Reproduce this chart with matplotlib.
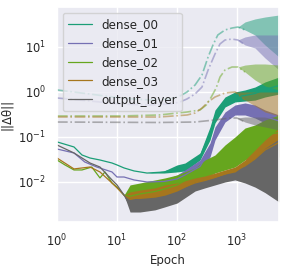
import matplotlib
matplotlib.use("Agg")
import matplotlib.pyplot as plt
import seaborn as sns
import numpy as np

sns.set_theme(style="darkgrid")
plt.rcParams['font.family'] = ['DejaVu Sans']

layers = ["dense_00", "dense_01", "dense_02", "dense_03", "output_layer"]
colors = ["#1b9e77", "#7570b3", "#66a61e", "#a6761d", "#666666"]

# ---- solid curves (noisy envelopes: low / high) ----
ep_s0 = [1, 1.92, 2.61, 3.55, 5.2, 8.25, 10, 13.1, 19.2, 31.6, 60.7, 100, 136, 242, 355, 430, 631, 926, 1359, 1995, 2929, 5012]
lo_s0 = [0.0778, 0.060, 0.0398, 0.0341, 0.0308, 0.0264, 0.0239, 0.0205, 0.0176, 0.0158, 0.0158, 0.0167, 0.0176, 0.0308, 0.0858, 0.205, 0.464, 0.60, 0.63, 0.66, 0.774, 0.90]
hi_s0 = [0.0778, 0.060, 0.0398, 0.0341, 0.0308, 0.0264, 0.0239, 0.0205, 0.0176, 0.0158, 0.0176, 0.0239, 0.0264, 0.044, 0.167, 0.398, 0.774, 1.0, 1.11, 1.29, 1.67, 2.15]

ep_s1 = [1, 1.92, 2.9, 4.6, 8.25, 10, 13.1, 19.2, 31.6, 60.7, 100, 136, 242, 355, 430, 631, 926, 1359, 1995, 2929, 5012]
lo_s1 = [0.0541, 0.0441, 0.0278, 0.0215, 0.0167, 0.0129, 0.0129, 0.0111, 0.0100, 0.0095, 0.0095, 0.0111, 0.0158, 0.0359, 0.0858, 0.215, 0.308, 0.308, 0.264, 0.205, 0.167]
hi_s1 = [0.0541, 0.0441, 0.0278, 0.0215, 0.0167, 0.0129, 0.0129, 0.0111, 0.0100, 0.0111, 0.0143, 0.0185, 0.0308, 0.0736, 0.167, 0.359, 0.514, 0.570, 0.514, 0.398, 0.308]

ep_s2 = [1, 1.36, 1.92, 2.61, 3.8, 5.2, 6.3, 8.25, 10, 13.1, 16.5, 24.2, 43, 63, 100, 200, 293, 430, 631, 926, 1359, 1995, 2929, 5012]
lo_s2 = [0.0308, 0.0239, 0.0185, 0.0185, 0.0215, 0.0123, 0.0167, 0.0095, 0.0077, 0.0051, 0.0027, 0.0031, 0.0034, 0.0040, 0.0051, 0.0100, 0.0123, 0.0158, 0.0185, 0.0215, 0.0308, 0.0398, 0.0514, 0.0514]
hi_s2 = [0.0308, 0.0239, 0.0185, 0.0185, 0.0215, 0.0123, 0.0167, 0.0095, 0.0077, 0.0051, 0.0086, 0.0095, 0.0111, 0.0123, 0.0143, 0.0205, 0.0308, 0.0398, 0.0664, 0.100, 0.158, 0.185, 0.239, 0.308]

ep_s3 = [1, 1.92, 3.55, 5.2, 8.25, 10, 13.1, 16.5, 24.2, 43, 63, 100, 200, 293, 430, 631, 926, 1359, 1995, 2929, 5012]
lo_s3 = [0.0341, 0.0195, 0.0215, 0.0167, 0.0095, 0.0074, 0.0051, 0.0028, 0.0031, 0.0034, 0.0040, 0.0046, 0.0074, 0.0086, 0.0100, 0.0123, 0.0150, 0.0167, 0.0205, 0.0308, 0.0359]
hi_s3 = [0.0341, 0.0195, 0.0215, 0.0167, 0.0095, 0.0074, 0.0051, 0.0060, 0.0066, 0.0074, 0.0086, 0.0095, 0.0123, 0.0136, 0.0158, 0.0185, 0.0215, 0.0308, 0.0514, 0.0858, 0.158]

ep_s4 = [1, 1.92, 3.55, 5.2, 8.25, 10, 13.1, 16.5, 24.2, 43, 63, 100, 200, 293, 430, 631, 926, 1359, 1995, 2929, 5012]
lo_s4 = [0.0664, 0.0441, 0.0264, 0.0215, 0.0111, 0.0086, 0.0051, 0.00215, 0.00215, 0.0024, 0.0028, 0.0034, 0.0063, 0.0074, 0.0086, 0.0100, 0.0111, 0.0095, 0.0077, 0.0058, 0.0036]
hi_s4 = [0.0664, 0.0441, 0.0264, 0.0215, 0.0111, 0.0086, 0.0051, 0.0043, 0.0043, 0.0046, 0.0051, 0.0063, 0.0100, 0.0111, 0.0129, 0.0150, 0.0167, 0.0239, 0.0340, 0.0560, 0.0900]

# ---- dash-dot curves (low / high) ----
ep_d0 = [1, 3.55, 11.2, 35.5, 76, 112, 147, 200, 261, 330, 398, 479, 631, 825, 1035, 1359, 1995, 2929, 5012]
lo_d0 = [1.11, 0.90, 0.736, 0.664, 0.70, 0.815, 1.0, 1.43, 2.39, 6.0, 11.1, 18.5, 23.9, 26.4, 27.8, 23.9, 18.5, 11.1, 6.0]
hi_d0 = [1.11, 0.90, 0.736, 0.664, 0.70, 0.815, 1.0, 1.43, 2.39, 6.0, 11.1, 18.5, 23.9, 26.4, 27.8, 36.0, 42.0, 46.4, 51.4]

ep_d1 = [1, 3.55, 11.2, 35.5, 76, 112, 147, 200, 261, 330, 430, 521, 631, 825, 1035, 1359, 1995, 2929, 5012]
lo_d1 = [0.736, 0.63, 0.54, 0.514, 0.54, 0.60, 0.70, 0.903, 1.29, 3.08, 7.0, 11.7, 14.3, 15.0, 14.3, 11.1, 9.5, 5.7, 3.08]
hi_d1 = [0.736, 0.63, 0.54, 0.514, 0.54, 0.60, 0.70, 0.903, 1.29, 3.08, 7.0, 11.7, 14.3, 15.0, 14.3, 16.7, 18.5, 18.5, 18.5]

ep_d2 = [1, 11.2, 50, 147, 242, 307, 373, 450, 521, 631, 825, 1035, 1359, 1995, 2929, 5012]
lo_d2 = [0.293, 0.293, 0.308, 0.359, 0.398, 0.514, 0.774, 1.23, 2.15, 3.08, 3.59, 3.59, 2.78, 1.85, 1.36, 1.11]
hi_d2 = [0.293, 0.293, 0.308, 0.359, 0.398, 0.514, 0.774, 1.23, 2.15, 3.08, 3.59, 3.59, 3.97, 4.19, 4.19, 3.97]

ep_d3 = [1, 50, 147, 200, 261, 330, 430, 631, 926, 1359, 1995, 2929, 5012]
lo_d3 = [0.278, 0.278, 0.308, 0.341, 0.44, 0.60, 0.774, 0.95, 1.0, 0.664, 0.49, 0.359, 0.293]
hi_d3 = [0.278, 0.278, 0.308, 0.341, 0.44, 0.60, 0.774, 0.95, 1.0, 1.0, 1.0, 1.0, 1.0]

ep_d4 = [1, 50, 200, 430, 764, 1000, 1359, 1995, 2929, 5012]
lo_d4 = [0.215, 0.21, 0.215, 0.239, 0.264, 0.264, 0.215, 0.185, 0.167, 0.143]
hi_d4 = [0.215, 0.21, 0.215, 0.239, 0.264, 0.264, 0.278, 0.278, 0.278, 0.278]

solid = [(ep_s0, lo_s0, hi_s0), (ep_s1, lo_s1, hi_s1), (ep_s2, lo_s2, hi_s2),
         (ep_s3, lo_s3, hi_s3), (ep_s4, lo_s4, hi_s4)]
dashed = [(ep_d0, lo_d0, hi_d0), (ep_d1, lo_d1, hi_d1), (ep_d2, lo_d2, hi_d2),
          (ep_d3, lo_d3, hi_d3), (ep_d4, lo_d4, hi_d4)]

fig = plt.figure(figsize=(2.88, 2.66), dpi=100)
ax = fig.add_axes([57/288, 44/266, 222/288, 215/266])

for name, c, (es, ls, hs), (ed, ld, hd) in zip(layers, colors, solid, dashed):
    es, ls, hs = np.array(es), np.array(ls), np.array(hs)
    mid = np.sqrt(ls * hs)
    ax.fill_between(es, ls, hs, color=c, lw=0, alpha=1.0)
    ax.plot(es, mid, color=c, lw=0.9, label=name)
    ed, ld, hd = np.array(ed), np.array(ld), np.array(hd)
    ax.fill_between(ed, ld, hd, color=c, lw=0, alpha=0.5)
    # dash-dot line only where the curve is still a thin line
    n_line = int(np.argmax(hd / ld > 1.05)) + 1
    ax.plot(ed[:n_line], ld[:n_line], color=c, lw=1.2, ls='-.', alpha=0.5)

ax.set_xscale('log')
ax.set_yscale('log')
ax.set_xlim(1, 5012)
ax.set_ylim(0.00129, 77.4)
ax.set_xticks([1, 10, 100, 1000])
ax.set_yticks([0.01, 0.1, 1, 10])
ax.tick_params(labelsize=8.3, pad=2)
ax.minorticks_off()
ax.set_xlabel('Epoch', fontsize=8.5, labelpad=3)
ax.set_ylabel('||Δθ||', fontsize=8.5)
ax.legend(loc='upper left', fontsize=8.6)

fig.savefig('out.png', dpi=100)
